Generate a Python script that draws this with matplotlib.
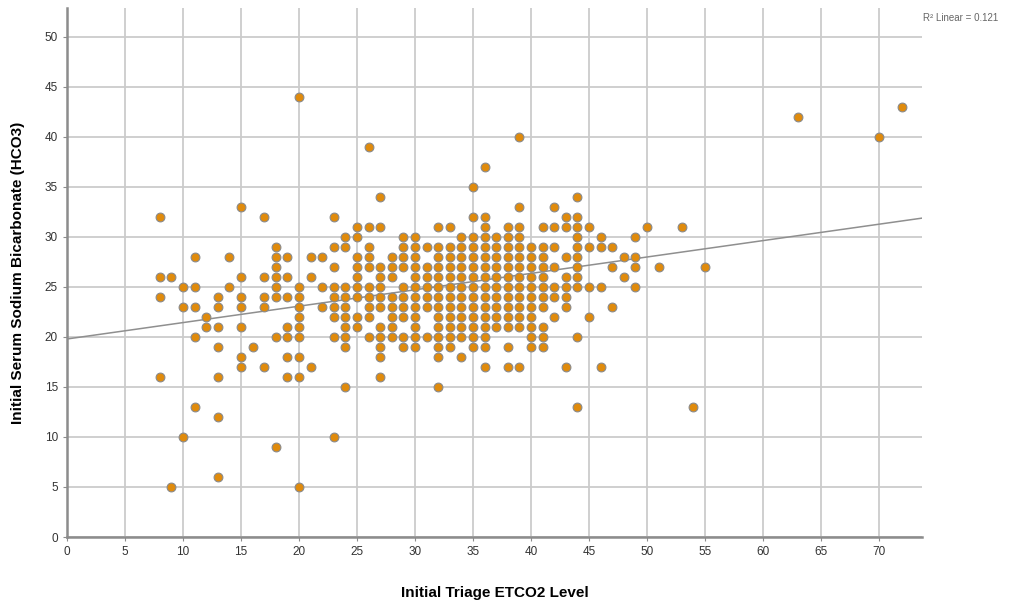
import numpy as np
import matplotlib
matplotlib.use("Agg")
import matplotlib.pyplot as plt

plt.rcParams['font.family'] = ['Liberation Sans', 'DejaVu Sans']

# ETCO2 values (x) and the HCO3 values seen at each of them (y)
etco2_levels = [8, 9, 10, 11, 12, 13, 14, 15, 16, 17, 18, 19, 20, 21, 22, 23,
                24, 25, 26, 27, 28, 29, 30, 31, 32, 33, 34, 35, 36, 37, 38, 39,
                40, 41, 42, 43, 44, 45, 46, 47, 48, 49, 50, 51, 53, 54, 55,
                63, 70, 72]
hco3_by_level = [
    [32, 26, 24, 16],
    [26, 5],
    [25, 23, 10],
    [28, 25, 23, 20, 13],
    [22, 21],
    [24, 23, 21, 19, 16, 12, 6],
    [28, 25],
    [33, 26, 24, 23, 21, 18, 17],
    [19],
    [32, 26, 24, 23, 17],
    [29, 28, 27, 26, 25, 24, 20, 9],
    [28, 26, 24, 21, 20, 18, 16],
    [44, 25, 24, 23, 22, 21, 20, 18, 16, 5],
    [28, 26, 17],
    [28, 25, 23],
    [32, 29, 27, 25, 24, 23, 22, 20, 10],
    [30, 29, 25, 24, 23, 22, 21, 20, 19, 15],
    [31, 30, 28, 27, 26, 25, 24, 22, 21],
    [39, 31, 29, 28, 27, 25, 24, 23, 22, 20],
    [34, 31, 27, 26, 25, 24, 23, 21, 20, 19, 18, 16],
    [28, 27, 26, 24, 23, 22, 21, 20],
    [30, 29, 28, 27, 25, 24, 23, 22, 20, 19],
    [30, 29, 28, 27, 26, 25, 24, 23, 22, 21, 20, 19],
    [29, 27, 26, 25, 24, 23, 20],
    [31, 29, 28, 27, 26, 25, 24, 23, 22, 21, 20, 19, 18, 15],
    [31, 29, 28, 27, 26, 25, 24, 23, 22, 21, 20, 19],
    [30, 29, 28, 27, 26, 25, 24, 23, 22, 21, 20, 18],
    [35, 32, 30, 29, 28, 27, 26, 25, 24, 23, 22, 21, 20, 19],
    [37, 32, 31, 30, 29, 28, 27, 26, 25, 24, 23, 22, 21, 20, 19, 17],
    [30, 29, 28, 27, 26, 25, 24, 23, 22, 21],
    [31, 30, 29, 28, 27, 26, 25, 24, 23, 22, 21, 19, 17],
    [40, 33, 31, 30, 29, 28, 27, 26, 25, 24, 23, 22, 21, 17],
    [29, 28, 27, 26, 25, 24, 23, 22, 21, 20, 19],
    [31, 29, 28, 27, 26, 25, 24, 23, 21, 20, 19],
    [33, 31, 29, 27, 25, 24, 22],
    [32, 31, 28, 26, 25, 24, 23, 17],
    [34, 32, 31, 30, 29, 28, 27, 26, 25, 20, 13],
    [31, 29, 25, 22],
    [30, 29, 25, 17],
    [29, 27, 23],
    [28, 26],
    [30, 28, 27, 25],
    [31],
    [27],
    [31],
    [13],
    [27],
    [42],
    [40],
    [43],
]

# linear fit
fit_intercept = 19.8
fit_slope = 0.164
r_squared = 0.121

x = np.concatenate([[lv] * len(ys) for lv, ys in zip(etco2_levels, hco3_by_level)])
y = np.concatenate(hco3_by_level)

fig = plt.figure(figsize=(10.27, 6.0), dpi=100)
ax = fig.add_axes([0.0652, 0.105, 0.8326, 0.8817])

ax.set_xlim(0, 73.7)
ax.set_ylim(0, 52.9)
ax.set_xticks(np.arange(0, 75, 5))
ax.set_yticks(np.arange(0, 55, 5))
ax.grid(True, color='#cbcbcb', linewidth=1.3)
ax.set_axisbelow(True)

ax.axline((0, fit_intercept), slope=fit_slope, color='#8f8f8f', linewidth=1.1, zorder=2)
ax.scatter(x, y, s=40, color='#e08b0c', edgecolors='#8a8a8a', linewidths=0.8, zorder=3)

for side in ['top', 'right']:
    ax.spines[side].set_visible(False)
for side in ['left', 'bottom']:
    ax.spines[side].set_color('#8c8c8c')
    ax.spines[side].set_linewidth(1.8)
ax.tick_params(axis='both', length=3, color='#8c8c8c', labelsize=8.5, labelcolor='#333333')

ax.set_xlabel('Initial Triage ETCO2 Level', fontsize=11, fontweight='bold', labelpad=20)
ax.set_ylabel('Initial Serum Sodium Bicarbonate (HCO3)', fontsize=11, fontweight='bold', labelpad=14)

fig.text(0.899, 0.97, 'R\u00b2 Linear = %.3f' % r_squared, fontsize=7, color='#666666',
         ha='left', va='center')

plt.savefig('out.png', dpi=100)
